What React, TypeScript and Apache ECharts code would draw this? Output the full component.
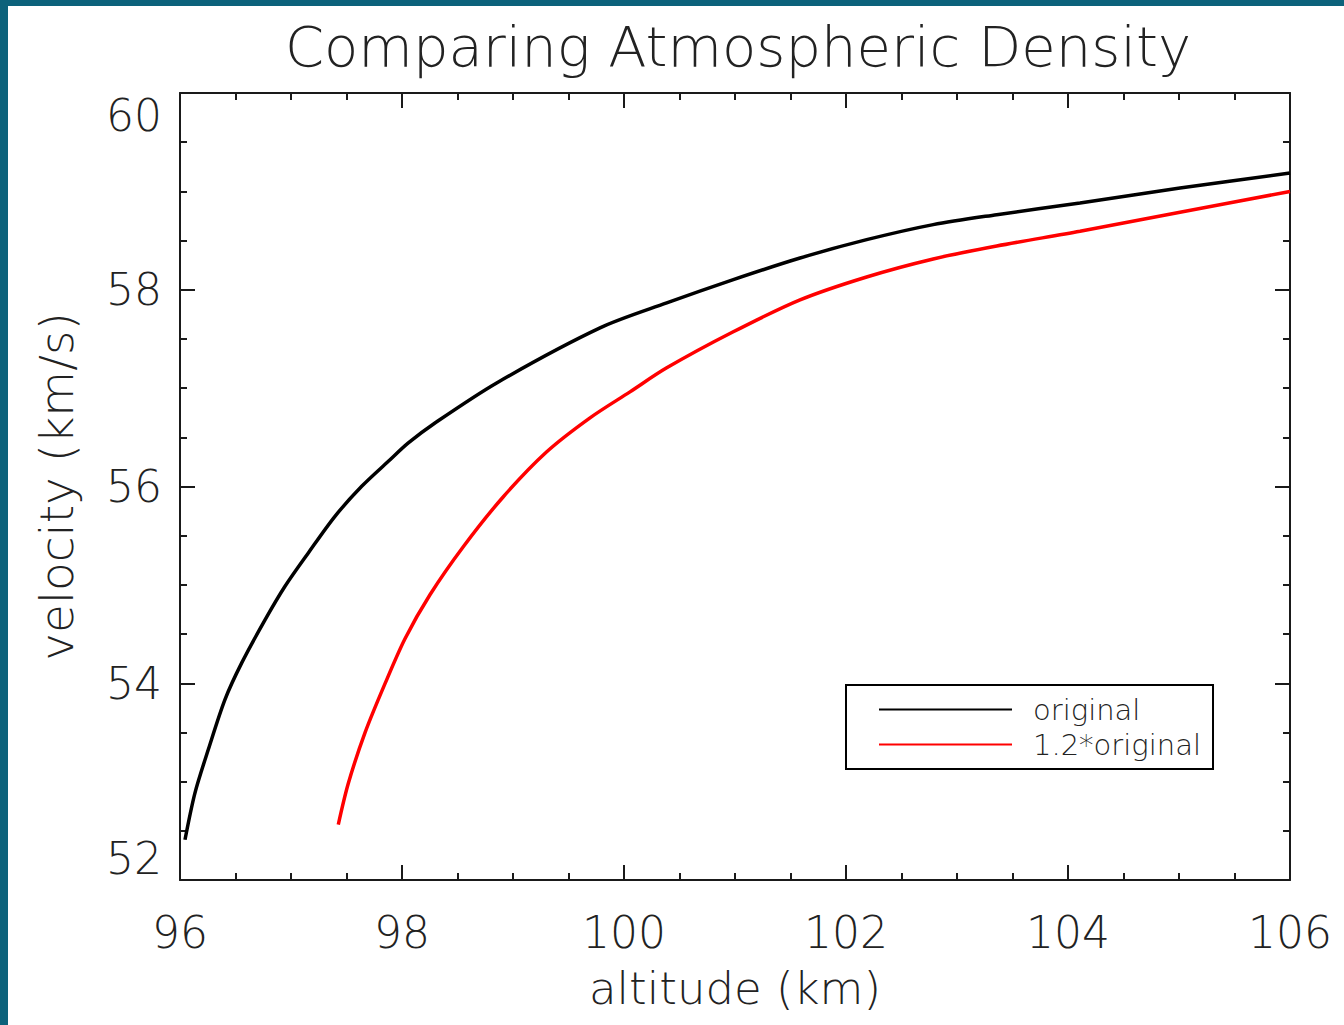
import React, { useEffect, useRef } from "react";
import * as echarts from "echarts";

const titleText = "Comparing Atmospheric Density";
const xName = "altitude (km)";
const yName = "velocity (km/s)";
const seriesNames = ["original", "1.2*original"];

const originalX = [96.045, 96.135, 96.255, 96.405, 96.556, 96.766, 96.946, 97.156, 97.396, 97.637, 97.877, 98.057, 98.297, 98.853, 99.784, 100.385, 100.985, 101.586, 102.186, 102.786, 103.358, 104.108, 105.009, 106.0];
const originalY = [52.409, 52.886, 53.326, 53.834, 54.207, 54.644, 54.986, 55.325, 55.697, 56.002, 56.256, 56.443, 56.646, 57.053, 57.612, 57.866, 58.103, 58.323, 58.509, 58.662, 58.763, 58.882, 59.034, 59.187];

const scaledX = [97.426, 97.516, 97.667, 97.847, 98.027, 98.252, 98.552, 98.913, 99.304, 99.694, 100.054, 100.385, 100.98, 101.586, 102.186, 102.786, 103.358, 104.108, 105.009, 106.0];
const scaledY = [52.564, 52.981, 53.498, 53.996, 54.453, 54.9, 55.388, 55.896, 56.353, 56.698, 56.962, 57.206, 57.57, 57.897, 58.13, 58.313, 58.445, 58.595, 58.788, 58.999];

const xMin = 96, xMax = 106, xStep = 2;
const yMin = 52, yMax = 60, yStep = 2;

const FONT = "DejaVu Sans";
const AXIS_COLOR = "#1a1a1a";
const TEAL = "#0c627b";

function zip(xs: number[], ys: number[]) {
  return xs.map((x, i) => [x, ys[i]]);
}

export default function App() {
  const ref = useRef<HTMLDivElement>(null);
  useEffect(() => {
    document.body.style.margin = "0";
    const chart = echarts.init(ref.current!, null, { renderer: "svg" });
    const axisLine = { show: true, lineStyle: { color: AXIS_COLOR, width: 2 } };
    const axisTick = { show: true, inside: true, length: 15, lineStyle: { color: AXIS_COLOR, width: 2 } };
    const minorTick = { show: true, splitNumber: 4, length: 7, lineStyle: { color: AXIS_COLOR, width: 2 } };
    const labelStyle = { color: "#222", fontFamily: FONT, fontWeight: 200 as any, fontSize: 44 };
    chart.setOption({
      animation: false,
      backgroundColor: "#ffffff",
      title: {
        text: titleText,
        left: 280,
        top: 13,
        textStyle: { fontFamily: FONT, fontWeight: 200, fontSize: 56, color: "#222" },
      },
      grid: { left: 180, right: 54, top: 93, bottom: 145, containLabel: false },
      legend: {
        orient: "vertical",
        left: 846,
        top: 685,
        padding: [10, 12, 10, 33],
        itemWidth: 133,
        itemHeight: 2,
        itemGap: 6,
        borderColor: "#000",
        borderWidth: 2,
        backgroundColor: "#fff",
        icon: "rect",
        textStyle: { fontFamily: FONT, fontWeight: 200, fontSize: 29, lineHeight: 29, color: "#222", padding: [0, 0, 0, 16] },
        data: seriesNames,
      },
      xAxis: [
        {
          type: "value",
          min: xMin,
          max: xMax,
          interval: xStep,
          position: "bottom",
          name: xName,
          nameLocation: "middle",
          nameGap: 86,
          nameTextStyle: { ...labelStyle, fontSize: 45 },
          axisLine,
          axisTick,
          minorTick,
          splitLine: { show: false },
          axisLabel: { ...labelStyle, margin: 30 },
        },
        {
          type: "value",
          min: xMin,
          max: xMax,
          interval: xStep,
          position: "top",
          axisLine,
          axisTick,
          minorTick,
          splitLine: { show: false },
          axisLabel: { show: false },
        },
      ],
      yAxis: [
        {
          type: "value",
          min: yMin,
          max: yMax,
          interval: yStep,
          position: "left",
          name: yName,
          nameLocation: "middle",
          nameRotate: 90,
          nameGap: 100,
          nameTextStyle: { ...labelStyle, fontSize: 47 },
          axisLine,
          axisTick,
          minorTick,
          splitLine: { show: false },
          axisLabel: { ...labelStyle, margin: 18, verticalAlignMinLabel: "bottom", verticalAlignMaxLabel: "top" },
        },
        {
          type: "value",
          min: yMin,
          max: yMax,
          interval: yStep,
          position: "right",
          axisLine,
          axisTick,
          minorTick,
          splitLine: { show: false },
          axisLabel: { show: false },
        },
      ],
      series: [
        {
          name: seriesNames[0],
          type: "line",
          smooth: 0.3,
          showSymbol: false,
          symbol: "none",
          data: zip(originalX, originalY),
          lineStyle: { color: "#000000", width: 3.5 },
          itemStyle: { color: "#000000" },
        },
        {
          name: seriesNames[1],
          type: "line",
          smooth: 0.3,
          showSymbol: false,
          symbol: "none",
          data: zip(scaledX, scaledY),
          lineStyle: { color: "#ff0000", width: 3.5 },
          itemStyle: { color: "#ff0000" },
        },
      ],
      graphic: [
        { type: "rect", left: 0, top: 0, shape: { width: 8, height: 1025 }, style: { fill: TEAL }, z: 100 },
        { type: "rect", left: 0, top: 0, shape: { width: 1344, height: 6 }, style: { fill: TEAL }, z: 100 },
      ],
    });
    return () => chart.dispose();
  }, []);
  return <div ref={ref} style={{ position: "absolute", left: 0, top: 0, width: 1344, height: 1025 }} />;
}
